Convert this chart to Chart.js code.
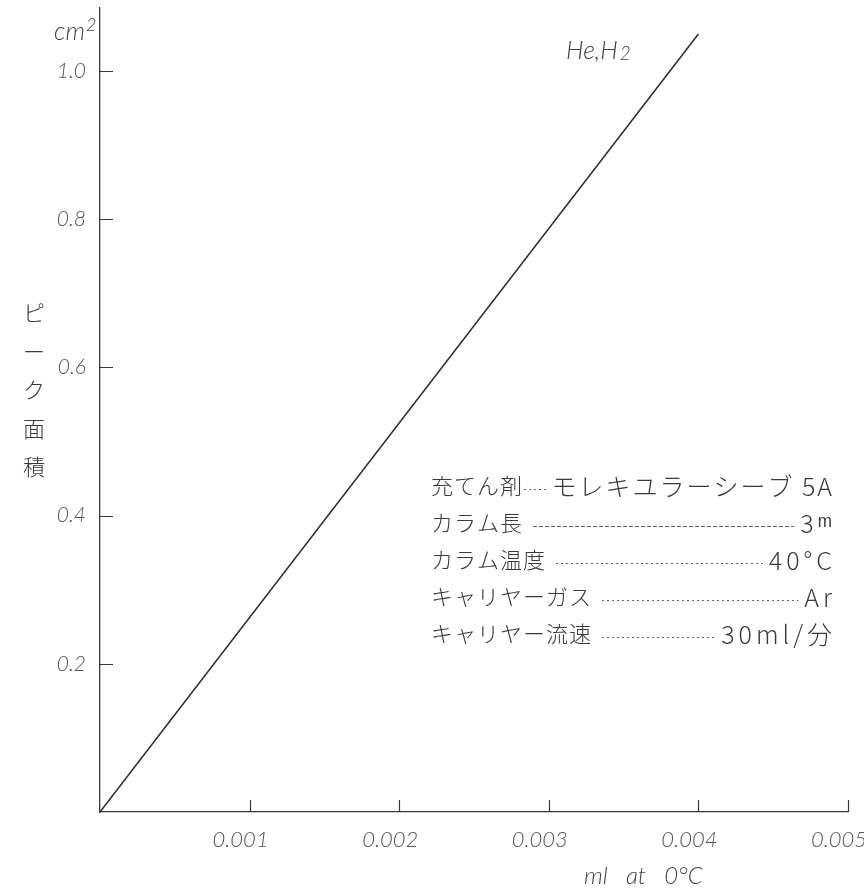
<!DOCTYPE html>
<html>
<head>
<meta charset="utf-8">
<script src="https://cdn.jsdelivr.net/npm/chart.js@4/dist/chart.umd.min.js"></script>
<style>
  html, body { margin: 0; padding: 0; background: #fff; }
  canvas { display: block; }
</style>
</head>
<body>
<canvas id="peakChart" width="864" height="888"></canvas>
<script>
// data
const sampleMl = [0, 0.004];
const peakArea = [0, 1.05];
const seriesLabel = 'He, H\u2082';

const xTicks = [0.001, 0.002, 0.003, 0.004, 0.005];
const xTickLabels = ['0.001', '0.002', '0.003', '0.004', '0.005'];
const yTicks = [0.2, 0.4, 0.6, 0.8, 1.0];
const yTickLabels = ['0.2', '0.4', '0.6', '0.8', '1.0'];

const yTitleChars = ['ピ', 'ー', 'ク', '面', '積'];
const conditionNames = ['充てん剤', 'カラム長', 'カラム温度', 'キャリヤーガス', 'キャリヤー流速'];
const conditionValues = ['モレキユラーシーブ 5A', '3ᵐ', '40°C', 'Ar', '30ml/分'];

const ink = '#3a3a3a';
const numFamily = 'Lato, "DejaVu Sans", sans-serif';
const jpFont = '300 22px "Noto Sans CJK JP", sans-serif';
const valFont = '300 25px "Noto Sans CJK JP", sans-serif';

// text with a raised small part, e.g. cm²
function drawScript(ctx, base, small, x, y, size, shift) {
    ctx.font = 'italic 300 ' + size + 'px ' + numFamily;
    ctx.fillText(base, x, y);
    const w = ctx.measureText(base).width;
    ctx.font = 'italic 300 ' + Math.round(size * 0.72) + 'px ' + numFamily;
    ctx.fillText(small, x + w + 1, y + shift);
    return w + 1 + ctx.measureText(small).width;
}

const extras = {
    id: 'extras',
    afterDraw: function (chart) {
        const ctx = chart.ctx;
        const xs = chart.scales.x, ys = chart.scales.y, a = chart.chartArea;
        ctx.save();
        // inward tick marks
        ctx.strokeStyle = ink;
        ctx.lineWidth = 1.2;
        ctx.beginPath();
        xTicks.forEach(function (v) {
            const px = Math.round(xs.getPixelForValue(v)) + 0.5;
            ctx.moveTo(px, a.bottom);
            ctx.lineTo(px, a.bottom - 12);
        });
        yTicks.forEach(function (v) {
            const py = Math.round(ys.getPixelForValue(v)) + 0.5;
            ctx.moveTo(a.left, py);
            ctx.lineTo(a.left + 13, py);
        });
        ctx.stroke();

        // units and series label
        ctx.fillStyle = '#444';
        ctx.textAlign = 'left';
        ctx.textBaseline = 'alphabetic';
        drawScript(ctx, 'cm', '2', 54, 40, 25, -9);
        ctx.font = 'italic 300 24px ' + numFamily;
        ctx.fillText('ml   at   0°C', 584, 884);
        const w = drawScript(ctx, 'He,H', '', 566, 59, 25, 0);
        ctx.font = 'italic 300 19px ' + numFamily;
        ctx.fillText('2', 566 + w + 1, 60);

        // vertical y title
        ctx.fillStyle = ink;
        ctx.font = jpFont;
        ctx.textAlign = 'center';
        ctx.textBaseline = 'middle';
        yTitleChars.forEach(function (c, i) {
            ctx.fillText(c, 34, 313 + i * 38.5);
        });

        // conditions block
        const left = 431, right = 832;
        conditionNames.forEach(function (name, i) {
            const y = 486 + i * 37;
            ctx.font = jpFont;
            ctx.letterSpacing = '1px';
            ctx.textAlign = 'left';
            ctx.fillText(name, left, y);
            const nameEnd = left + ctx.measureText(name).width;
            const sp = i === 0 ? 2 : 4;
            ctx.font = valFont;
            ctx.letterSpacing = sp + 'px';
            ctx.textAlign = 'right';
            const val = conditionValues[i];
            ctx.fillText(val, right + sp, y);
            const valStart = right - ctx.measureText(val).width + sp;
            // dotted leader
            ctx.save();
            ctx.strokeStyle = '#666';
            ctx.lineWidth = 1;
            ctx.setLineDash(i === 1 ? [4, 2] : [2, 3]);
            ctx.beginPath();
            ctx.moveTo(i === 0 ? nameEnd + 1 : nameEnd + 10, y + 3.5);
            ctx.lineTo(valStart - (i === 0 ? 3 : 6), y + 3.5);
            ctx.stroke();
            ctx.restore();
        });
        ctx.restore();
    }
};

new Chart(document.getElementById('peakChart').getContext('2d'), {
    type: 'line',
    data: {
        datasets: [{
            label: seriesLabel,
            data: sampleMl.map(function (v, i) { return { x: v, y: peakArea[i] }; }),
            borderColor: '#2b2b2b',
            borderWidth: 1.5,
            pointRadius: 0,
            fill: false,
            tension: 0
        }]
    },
    options: {
        responsive: false,
        animation: false,
        layout: { padding: { left: 0, right: 16, top: 8, bottom: 0 } },
        plugins: {
            legend: { display: false },
            tooltip: { enabled: false }
        },
        scales: {
            x: {
                type: 'linear',
                min: 0,
                max: 0.005,
                grid: { display: false, drawTicks: false },
                border: { display: true, color: ink, width: 1.3 },
                afterBuildTicks: function (s) { s.ticks = xTicks.map(function (v) { return { value: v }; }); },
                afterFit: function (s) { s.height = 76; s.paddingLeft = 0; s.paddingRight = 0; },
                ticks: {
                    padding: 15,
                    labelOffset: -9,
                    maxRotation: 0,
                    autoSkip: false,
                    color: '#555',
                    font: { family: numFamily, size: 22, style: 'italic', weight: '300' },
                    callback: function (v, i) { return xTickLabels[i]; }
                }
            },
            y: {
                type: 'linear',
                min: 0,
                max: 1.085,
                grid: { display: false, drawTicks: false },
                border: { display: true, color: ink, width: 1.3 },
                afterBuildTicks: function (s) { s.ticks = yTicks.map(function (v) { return { value: v }; }); },
                afterFit: function (s) { s.width = 100; s.paddingTop = 0; s.paddingBottom = 0; },
                ticks: {
                    padding: 14,
                    autoSkip: false,
                    color: '#555',
                    font: { family: numFamily, size: 21, style: 'italic', weight: '300' },
                    callback: function (v, i) { return yTickLabels[i]; }
                }
            }
        }
    },
    plugins: [extras]
});
</script>
</body>
</html>
